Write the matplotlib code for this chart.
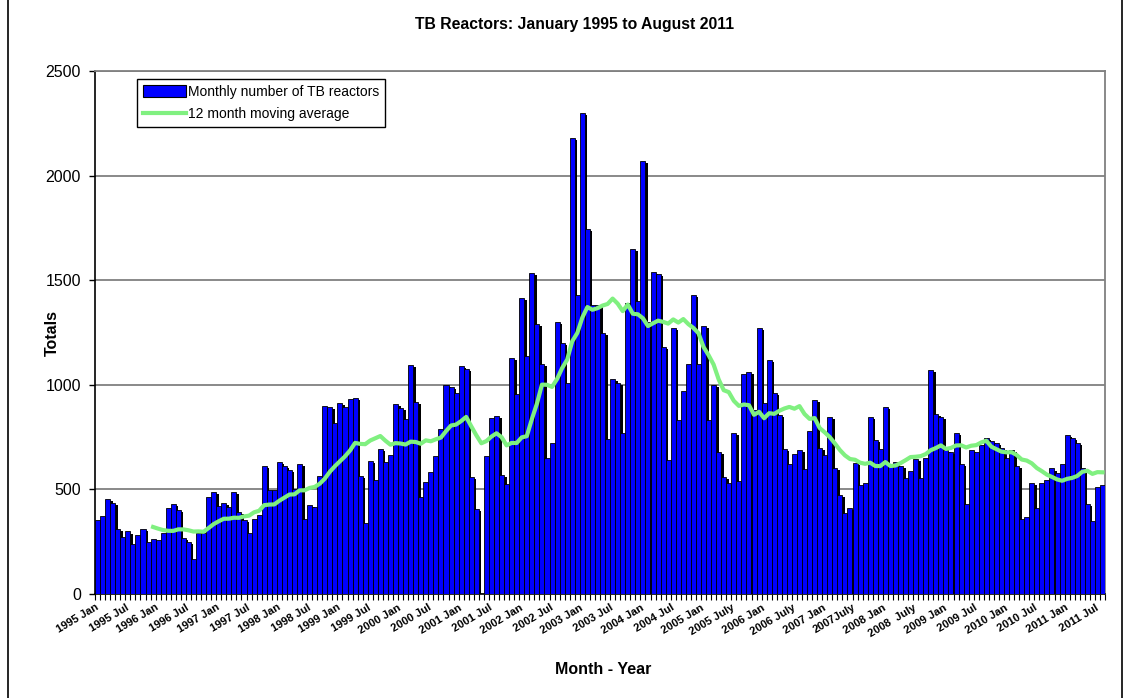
import numpy as np
import pandas as pd
import matplotlib
matplotlib.use("Agg")
import matplotlib.pyplot as plt
from matplotlib.patches import Rectangle
from matplotlib.lines import Line2D

plt.rcParams["font.family"] = ["Liberation Sans", "DejaVu Sans"]

# monthly TB reactors, Jan 1995 .. Aug 2011
y1995 = [354, 373, 454, 435, 312, 274, 299, 239, 280, 312, 248, 264]
y1996 = [258, 290, 413, 432, 400, 270, 250, 165, 290, 290, 464, 488]
y1997 = [420, 435, 416, 488, 392, 354, 291, 358, 378, 612, 497, 497]
y1998 = [632, 612, 593, 500, 621, 358, 425, 416, 564, 899, 894, 817]
y1999 = [913, 894, 930, 937, 564, 340, 636, 545, 693, 631, 664, 908]
y2000 = [889, 836, 1095, 918, 464, 535, 583, 660, 789, 999, 989, 961]
y2001 = [1090, 1076, 559, 406, 0, 660, 840, 850, 570, 525, 1130, 955]
y2002 = [1415, 1140, 1535, 1290, 1100, 650, 720, 1300, 1200, 1010, 2180, 1430]
y2003 = [2300, 1745, 1380, 1380, 1250, 740, 1030, 1010, 770, 1390, 1650, 1400]
y2004 = [2070, 1300, 1540, 1530, 1180, 640, 1270, 830, 970, 1100, 1430, 1100]
y2005 = [1280, 830, 1000, 680, 560, 530, 770, 540, 1050, 1060, 880, 1270]
y2006 = [912, 1120, 960, 855, 693, 620, 669, 688, 597, 781, 927, 697]
y2007 = [664, 848, 602, 473, 387, 410, 626, 521, 532, 846, 736, 693]
y2008 = [895, 620, 630, 610, 555, 590, 645, 555, 650, 1070, 860, 845]
y2009 = [690, 680, 770, 620, 430, 690, 680, 710, 745, 730, 720, 700]
y2010 = [650, 690, 610, 360, 370, 530, 410, 530, 545, 600, 580, 620]
y2011 = [760, 745, 720, 600, 430, 350, 510, 520]

tick_labels = ["1995 Jan", "1995 Jul", "1996 Jan", "1996 Jul", "1997 Jan", "1997 Jul",
               "1998 Jan", "1998 Jul", "1999 Jan", "1999 Jul", "2000 Jan", "2000 Jul",
               "2001 Jan", "2001 Jul", "2002 Jan", "2002 Jul", "2003 Jan", "2003 Jul",
               "2004 Jan", "2004 Jul", "2005 Jan", "2005 July", "2006 Jan", "2006 July",
               "2007 Jan", "2007July", "2008 Jan", "2008  July", "2009 Jan", "2009 Jul",
               "2010 Jan", "2010 Jul", "2011 Jan", "2011 Jul"]

monthly = np.array(y1995 + y1996 + y1997 + y1998 + y1999 + y2000 + y2001 + y2002 + y2003
                   + y2004 + y2005 + y2006 + y2007 + y2008 + y2009 + y2010 + y2011, dtype=float)
moving = pd.Series(monthly).rolling(12).mean()
pos = np.arange(len(monthly))

W, H = 1129, 698
fig = plt.figure(figsize=(W / 100, H / 100), dpi=100)
ax = fig.add_axes([95 / W, 1 - 594 / H, (1105 - 95) / W, (594 - 71) / H])

# outer frame of the chart (only the sides show)
fig.patches.append(Rectangle((8 / W, -0.05), (1122 - 8) / W, 1.1,
                             transform=fig.transFigure, fill=False, ec="black", lw=1.2))

# bar shadow, then bars
ax.bar(pos + 0.5, np.maximum(monthly - 10, 0), width=1.0, align="edge",
       color="black", lw=0, zorder=2)
ax.bar(pos, monthly, width=1.0, align="edge", color="#0000ff",
       ec="black", lw=0.6, zorder=3)
ax.plot(pos + 0.5, moving, color="#80f080", lw=3, zorder=4)

ax.set_xlim(0, len(monthly))
ax.set_ylim(0, 2500)
ax.set_yticks(np.arange(0, 2501, 500))
ax.tick_params(axis="y", labelsize=11.5, length=4, width=1, pad=6)
ax.yaxis.grid(True, color="#808080", lw=1.3)
ax.set_axisbelow(True)

ax.set_xticks(np.arange(0, len(monthly), 6))
ax.set_xticklabels(tick_labels, rotation=31, ha="right", rotation_mode="anchor",
                   fontsize=8, fontweight="bold")
ax.set_xticks(np.arange(0, len(monthly) + 1), minor=True)
ax.tick_params(axis="x", which="both", length=4, width=0.8, pad=2)

for s in ["top", "right"]:
    ax.spines[s].set_color("#808080")
    ax.spines[s].set_linewidth(1.3)
for s in ["left", "bottom"]:
    ax.spines[s].set_linewidth(1.2)

fig.text(575 / W, 1 - 25 / H, "TB Reactors: January 1995 to August 2011", fontsize=11.3,
         fontweight="bold", ha="center", va="center")
ax.set_ylabel("Totals", fontsize=11.5, fontweight="bold")
ax.yaxis.set_label_coords((52 - 95) / 1010, 0.5)
ax.set_xlabel("Month - Year", fontsize=11.5, fontweight="bold")
ax.xaxis.set_label_coords((603 - 95) / 1010, (594 - 670) / 523)
ax.xaxis.label.set_va("center")
ax.yaxis.label.set_va("center")

handles = [Rectangle((0, 0), 1, 1, fc="#0000ff", ec="black", lw=0.8),
           Line2D([], [], color="#80f080", lw=3)]
leg = ax.legend(handles, ["Monthly number of TB reactors", "12 month moving average"],
                loc="upper left", bbox_to_anchor=((137 - 95) / 1010, (594 - 79) / 523),
                fontsize=10, fancybox=False, framealpha=1, edgecolor="black",
                handlelength=3.1, handleheight=0.9, handletextpad=0.2,
                borderpad=0.4, labelspacing=0.62, borderaxespad=0)
leg.get_frame().set_linewidth(1.0)

fig.savefig("out.png", dpi=100)
